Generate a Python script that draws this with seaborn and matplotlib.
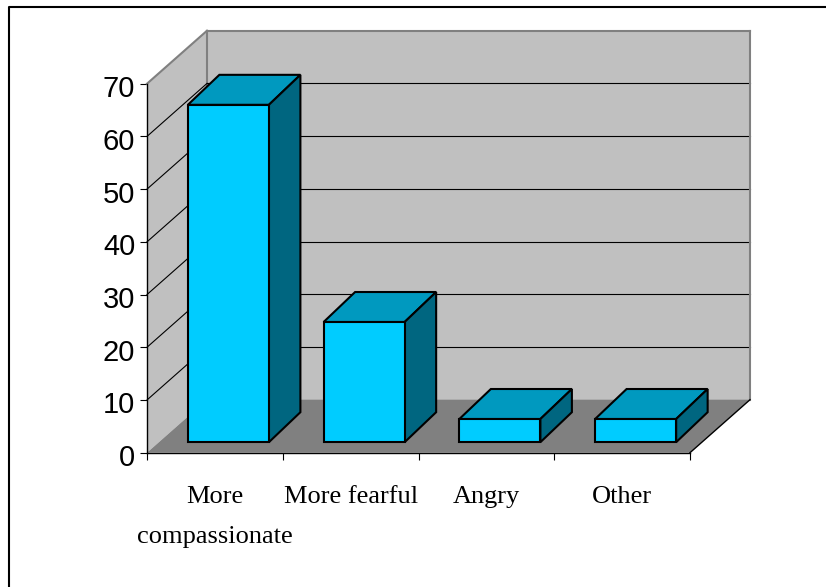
import matplotlib
matplotlib.use("Agg")
import matplotlib.pyplot as plt
from matplotlib.lines import Line2D
from matplotlib.patches import Polygon
from matplotlib.transforms import Affine2D, IdentityTransform
import seaborn as sns

categories = ["More\ncompassionate", "More fearful", "Angry", "Other"]
values = [64, 22.8, 4.4, 4.4]
y_ticks = [0, 10, 20, 30, 40, 50, 60, 70]

W, H = 826, 587
sns.set_style("white")
fig = plt.figure(figsize=(W / 100, H / 100), dpi=100)
ax = fig.add_axes([147 / W, (H - 452.7) / H, 543 / W, 369 / H])
ax.patch.set_visible(False)

sns.barplot(x=categories, y=values, color="#00CCFF", saturation=1, width=0.597,
            edgecolor="black", linewidth=1.5, ax=ax, zorder=5)
ax.set_xlim(-0.5, 3.5)
ax.set_ylim(0, 70)
ax.set_xlabel("")
ax.set_ylabel("")

DEPTH = (60, 53)       # wall depth in pixels
FRONT = (13.5, 10.5)   # gap from axis plane to the bar front
BOX = (31.5, 30)       # bar depth


def P(x, y, d=(0, 0)):
    px, py = ax.transData.transform((x, y))
    return (px + d[0], py + d[1])


def poly(pts, **kw):
    ax.add_patch(Polygon(pts, closed=True, transform=IdentityTransform(),
                         clip_on=False, **kw))


def seg(a, b, color, lw, z=2):
    ax.add_line(Line2D([a[0], b[0]], [a[1], b[1]], color=color, lw=lw, zorder=z,
                       transform=IdentityTransform(), clip_on=False,
                       solid_capstyle="projecting"))


x0, x1 = ax.get_xlim()
wall = "#C0C0C0"
edge = "#808080"
# back wall, side wall, floor
poly([P(x0, 0, DEPTH), P(x1, 0, DEPTH), P(x1, 70, DEPTH), P(x0, 70, DEPTH)],
     facecolor=wall, edgecolor="none", zorder=1)
poly([P(x0, 0), P(x0, 0, DEPTH), P(x0, 70, DEPTH), P(x0, 70)],
     facecolor=wall, edgecolor="none", zorder=1)
poly([P(x0, 0), P(x1, 0), P(x1, 0, DEPTH), P(x0, 0, DEPTH)],
     facecolor=edge, edgecolor="none", zorder=1.5)
for t in y_ticks[1:-1]:
    seg(P(x0, t), P(x0, t, DEPTH), "black", 0.8)
    seg(P(x0, t, DEPTH), P(x1, t, DEPTH), "black", 0.8)
seg(P(x0, 70), P(x0, 70, DEPTH), edge, 1.5)
seg(P(x0, 70, DEPTH), P(x1, 70, DEPTH), edge, 1.5)
seg(P(x0, 70, DEPTH), P(x0, 0, DEPTH), edge, 1.5, z=1.2)
seg(P(x1, 70, DEPTH), P(x1, 0, DEPTH), edge, 1.5)
seg(P(x1, 0), P(x1, 0, DEPTH), "black", 1.0)

# bar faces
shift = Affine2D().translate(*FRONT)
for bar in list(ax.patches):
    if not hasattr(bar, "get_width"):
        continue
    bar.set_transform(ax.transData + shift)
    bar.set_clip_on(False)
    l, r = bar.get_x(), bar.get_x() + bar.get_width()
    h = bar.get_height()
    back = (FRONT[0] + BOX[0], FRONT[1] + BOX[1])
    style = dict(edgecolor="black", linewidth=1.5, joinstyle="miter", zorder=4)
    poly([P(l, h, FRONT), P(r, h, FRONT), P(r, h, back), P(l, h, back)],
         facecolor="#0099BF", **style)
    poly([P(r, 0, FRONT), P(r, 0, back), P(r, h, back), P(r, h, FRONT)],
         facecolor="#006680", **style)

# axes
for s in ("top", "right"):
    ax.spines[s].set_visible(False)
for s in ("left", "bottom"):
    ax.spines[s].set_color("black")
    ax.spines[s].set_linewidth(1.0)
    ax.spines[s].set_zorder(3)

ax.set_yticks(y_ticks)
ax.set_xticks(range(len(categories)))
ax.set_xticklabels(categories, fontfamily="Liberation Serif", fontsize=19, linespacing=2.05,
                   color="black")
ax.set_xticks([-0.5, 0.5, 1.5, 2.5, 3.5], minor=True)
ax.tick_params(axis="x", which="major", length=0, pad=24, bottom=False, labelcolor="black")
ax.tick_params(axis="x", which="minor", length=5, width=0.8, color="black", bottom=True)
ax.tick_params(axis="y", length=5, width=0.8, color="black", left=True, pad=3.5,
               labelsize=21, labelcolor="black")
for lab in ax.get_yticklabels():
    lab.set_fontfamily("Liberation Sans")
    lab.set_transform(lab.get_transform() + Affine2D().translate(0, -2.5))

# frame lines at the top and left of the picture
fig.add_artist(Line2D([9 / W, 9 / W, 1], [0, 1 - 7 / H, 1 - 7 / H], color="black", lw=1.5,
                      transform=fig.transFigure))

fig.savefig("out.png", dpi=100, facecolor="white")
